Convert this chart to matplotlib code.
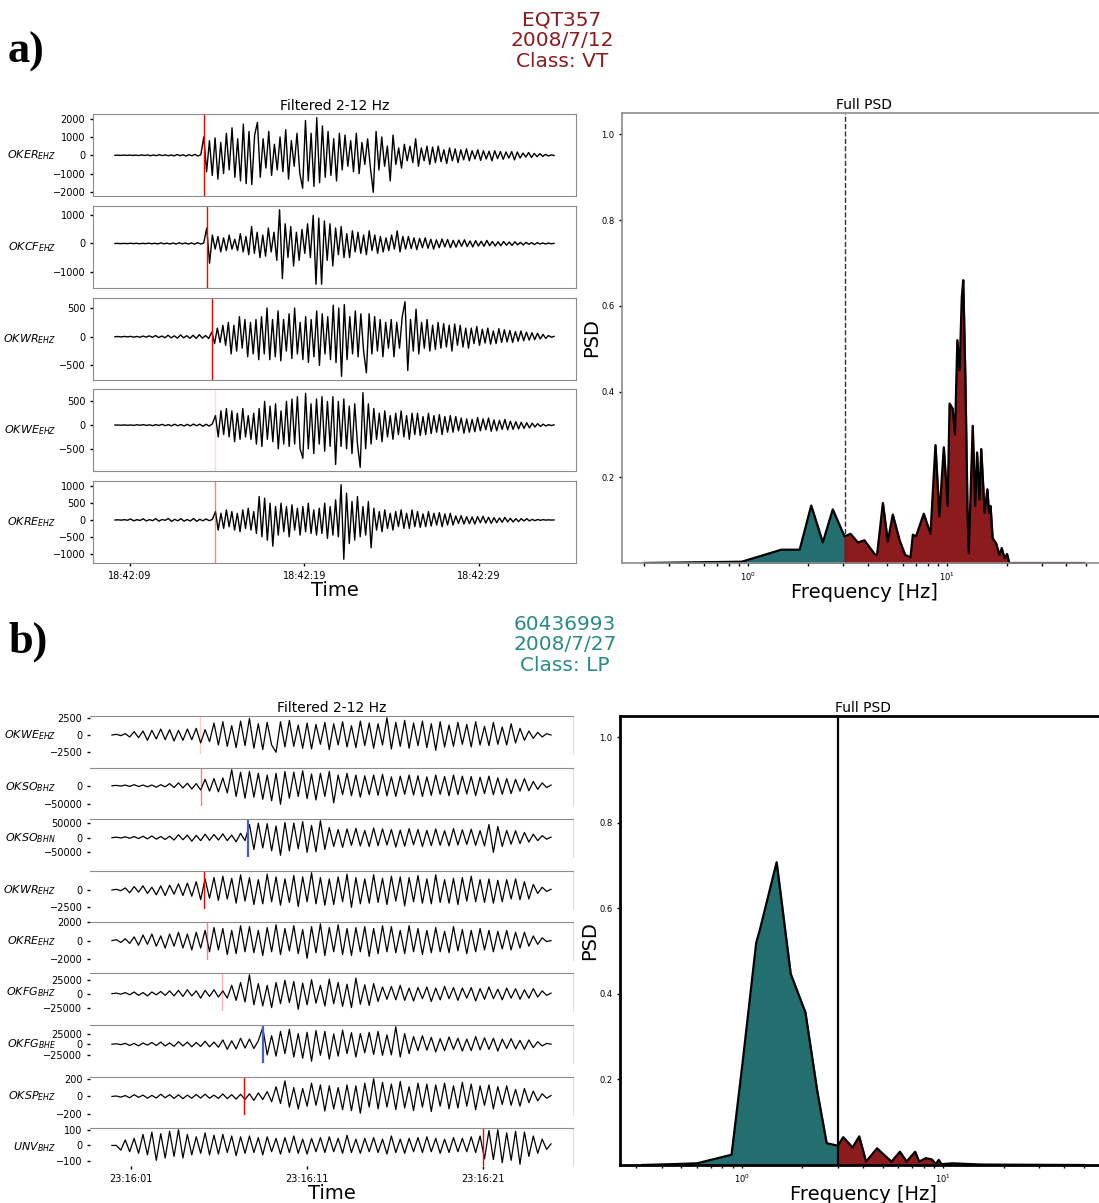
import numpy as np
import matplotlib
matplotlib.use('Agg')
import matplotlib.pyplot as plt

# ---------------- panel a: VT event ----------------
a_header = 'EQT357\n2008/7/12\nClass: VT'
a_labels = [r'$OKER_{EHZ}$', r'$OKCF_{EHZ}$', r'$OKWR_{EHZ}$', r'$OKWE_{EHZ}$', r'$OKRE_{EHZ}$']
a_t_start, a_t_end = 8.14, 33.3          # seconds after 18:42:00
a_picks = [13.23, 13.4, 13.69, 13.9, 13.9]
a_pick_alpha = [1.0, 1.0, 1.0, 0.15, 0.5]
a_yticks = [[-2000, -1000, 0, 1000, 2000], [-1000, 0, 1000], [-500, 0, 500],
            [-500, 0, 500], [-1000, -500, 0, 500, 1000]]
a_xticks = [9, 19, 29]
a_xticklabels = ['18:42:09', '18:42:19', '18:42:29']

oker_pre = [0, 5, -8, 10, -6, 12, -10, 8, -15, 20, -12, 18, -25, 15, -20, 30, -18, 25, -30, 20,
            -35, 40, -25, 30, -45, 35, -30, 50, -40, 30]
oker_post = [1000, -900, 800, -1100, 950, -1300, 700, -1000, 1200, -800, 1500, -1200, 900, -1400, 1700,
             -1550, 1300, -1600, 1100,
             1800, -1200, 900, -700, 1300, -1100, 600, -800, 1000, -900, 1400, -1300, 800, -600, 1200, -1000,
             -1800, 1900, -1400, 1200, -1700, 2050, -1500, 1600, -1200, 1300,
             -1100, 900, -1400, 1200, -800, 1100, -600, 800, -900, 1200, -1000, 700, -500, 900, -700,
             -2020, 1300, -800, 1000, -600, 500, -1400, 1100, -500, 400, -700, 600, -300, 500, -400, 900,
             -600, 400, -300, 500,
             -500, 450, -400, 500, -350, 300, -450, 400, -300, 350, -400, 300, -250, 350, -300, 250, -200,
             300, -280, 250, -200, 220, -300, 250, -180, 200, -220, 180, -150, 200, -250, 180, -150, 120,
             -100, 150, -120, 100, -80, 90, -60, 50, -40, 20, -10]
okcf_pre = [0, 3, -5, 4, -6, 8, -5, 7, -10, 6, -8, 12, -10, 8, -15, 20, -12, 10, -18, 15, -20, 25, -15,
            18, -22, 20, -25, 30, -20, 15]
okcf_post = [550, -700, 300, -200, 250, -300, 200, -250, 300, -200, 150, -250, 350, -300, 250, -400,
             600, -350, 400, -500, 300, -450, 550, -300, 400, -600,
             1200, -1250, 700, -500, 600, -800, 400, -600, 500, -350, 700, -500,
             1000, -1450, 900, -1450, 800, -600, 700, -800, 550, -400, 600, -500, 350,
             -500, 450, -300, 400, -350, 300, -400, 450, -250, 300, -350, 250, -300, 200, -250, 300, -200,
             450, -300, 250,
             -200, 250, -180, 200, -220, 180, -150, 200, -170, 150, -200, 130, -150, 160, -120, 140, -150,
             110, -130, 120, -100, 130, -110, 90, -120, 100, -90, 80, -100, 110, -80, 70, -90, 60, -80, 70,
             -60, 50, -70, 60, -50, 40, -50, 40, -30, 30, -40, 30, -20, 20, -20, 15, -10, 5]
okwr_pre = [0, 3, -4, 5, -3, 6, -8, 5, -10, 12, -8, 15, -10, 20, -15, 12, -18, 25, -20, 15, -25, 30, -20,
            18, -28, 25, -30, 35, -25, 20, -30]
okwr_post = [80, -120, 150, -100, 200, -150,
             250, -300, 200, -250, 350, -200, 300, -350, 250, -300, 300, -400, 350,
             -300, 500, -400, 300, -350, 450, -420, 300, -250, 400, -380, 500, -300, 250, -400, 350, -450,
             300, -350, 450, -500, 400, -300, 350, -400, 550, -450, 500,
             -690, 560, -400, 350, -300, 450, -350, 400, -250,
             -630, 400, -300, 350, -250, 300, -350, 250, -200, 300, -350, 250, -200, 350,
             610, -590, 300, -250,
             480, -300, 250, -200, 300, -250, 200, -220, 250, -200, 230, -180, 200, -250, 220, -150, 200,
             -180, 150, -200,
             150, -120, 180, -150, 130, -110, 150, -130, 100, -120, 140, -100, 120, -90, 110, -100, 90, -80,
             100, -70, 80, -60, 70, -50, 60, -40, 40, -30, 20, -10, 5]
okwe_pre = [0, 2, -3, 4, -5, 3, -6, 8, -5, 10, -7, 6, -12, 10, -8, 15, -12, 10, -15, 18, -14, 12, -20, 16,
            -18, 22, -15, 20, -25, 18, -20, 25]
okwe_post = [200, -250, 300, -200,
             350, -250, 300, -350, 250, -300, 350, -250, 200, -300, 250,
             -400, 350, -450, 500, -300, 400, -350, 450, -500, 300, -400,
             500, -450, 550, -400, 600, -500,
             -700, 670, -500, 450, -600, 550, -400, 600, -550, 500, -450, 600,
             -830, 500, -450, 550, -500, 400, -600, 450, -400,
             -890, 683, -500, 450, -400, 350,
             -300, 250, -350, 300, -250, 200, -300, 250, -200, 300, -250, 200, -300, 250, -200, 250, -220,
             180, -200, 250, -180, 200, -150, 220, -200, 180, -150, 200,
             -150, 180, -120, 150, -170, 130, -150, 120, -140, 160, -120, 130, -100, 150, -130, 110, -120,
             100, -90, 120, -100, 80, -90, 70, -80, 60, -70, 50, -60, 40, -40, 30, -30, 20, -20, 10, -10, 5]
okre_pre = [0, 5, -5, 10, -8, 30, -25, 10, -15, 35, -30, 12, -20, 40, -35, 15, -10, 45, -40, 20, -25, 40,
            -35, 15, -30, 45, -40, 20, -25, 30, -20, 15]
okre_post = [250, -300, 200, -250, 300, -200, 250, -300, 200, -350, 300, -250, 350, -300, 250,
             -400, 700, -500, 650, -600, 500,
             -780, 400, -450, 500, -350, 400, -500, 450, -300, 350, -450, 400, -350, 500, -400, 300, -450,
             350, -400, 500, -550, 400, -450, 600, -500,
             1050, -1170, 800, -700, 550, -600, 700, -500, 400, -450, 550, -830, 350,
             -300, 250, -350, 300, -250, 200, -300, 250, -200, 300, -250, 200, -250, 300, -200, 250, -220,
             180, -200, 250, -180, 200, -150, 220, -200, 180, -150, 200,
             -150, 120, -100, 130, -120, 100, -110, 90, -120, 100, -80, 110, -90, 80, -100, 70, -80, 60,
             -70, 80, -60, 50, -60, 40, -50, 40, -30, 40, -30, 20, -20, 15, -10, 10, -5, 5, -3, 2]

a_pre = [oker_pre, okcf_pre, okwr_pre, okwe_pre, okre_pre]
a_post = [oker_post, okcf_post, okwr_post, okwe_post, okre_post]

# PSD of event a
psd_a_freq = [0.30, 0.63, 0.93, 1.21, 1.47, 1.82, 2.08, 2.38, 2.67, 3.06, 3.28, 3.57, 3.85, 4.33, 4.46,
              4.77, 5.05, 5.35, 5.78, 6.17, 6.57, 6.75, 7.0, 7.66, 8.28, 8.77, 9.18, 9.66, 10.1, 10.33,
              10.7, 11.0, 11.3, 11.6, 11.9, 12.1, 12.4, 12.7, 12.9, 13.5, 13.9, 14.2, 14.6, 14.9, 15.5,
              16.0, 16.3, 16.6, 17.0, 17.7, 18.4, 18.9, 19.5, 20.1, 20.6, 49.0]
psd_a_val = [0, 0.002, 0.003, 0.019, 0.031, 0.031, 0.134, 0.048, 0.125, 0.062, 0.068, 0.048, 0.053,
             0.021, 0.019, 0.140, 0.050, 0.113, 0.054, 0.019, 0.013, 0.066, 0.062, 0.115, 0.068, 0.275,
             0.109, 0.27, 0.133, 0.372, 0.36, 0.30, 0.52, 0.45, 0.62, 0.66, 0.43, 0.13, 0.023, 0.32,
             0.133, 0.258, 0.148, 0.266, 0.117, 0.172, 0.117, 0.133, 0.058, 0.046, 0.019, 0.035, 0.011,
             0.021, 0.0, 0.0]
psd_a_split = 3.06

# ---------------- panel b: LP event ----------------
b_header = '60436993\n2008/7/27\nClass: LP'
b_labels = [r'$OKWE_{EHZ}$', r'$OKSO_{BHZ}$', r'$OKSO_{BHN}$', r'$OKWR_{EHZ}$', r'$OKRE_{EHZ}$',
            r'$OKFG_{BHZ}$', r'$OKFG_{BHE}$', r'$OKSP_{EHZ}$', r'$UNV_{BHZ}$']
b_t_start, b_t_end = -0.1, 24.85          # seconds after 23:16:00
b_picks = [4.92, 4.98, 7.65, 5.15, 5.3, 6.17, 8.5, 7.42, 21.0]
b_pick_kind = ['P', 'P', 'S', 'P', 'P', 'P', 'S', 'P', 'P']
b_pick_alpha = [0.2, 0.5, 1.0, 1.0, 0.5, 0.3, 1.0, 1.0, 1.0]
b_units = [100, 1000, 1000, 100, 100, 1000, 1000, 1, 1]
b_yticks = [[-2500, 0, 2500], [-50000, 0], [-50000, 0, 50000], [-2500, 0], [-2000, 0, 2000],
            [-25000, 0, 25000], [-25000, 0, 25000], [-200, 0, 200], [-100, 0, 100]]
b_xticks = [1, 11, 21]
b_xticklabels = ['23:16:01', '23:16:11', '23:16:21']

okwe_ehz = [0, 1, -1, 2,
            -3, 5, -4, 6, -8, 7, -6, 9, -7, 8, -9, 7,
            -8, 9, -7, 10, -12, 8, -10,
            18, -15, 20, -17, 14, -19, 21, -16,
            25, -20, 17, -22, 19, -15,
            -26, 20, -18, 22, -17, 15, -20, 18, -21, 16, -14, 19, -22, 17, -15, 20, -18, 14, -19, 21, -16,
            18, -20, 17, -15,
            26, -21, 19, -17, 22, -20, 18, -16, 21, -19,
            17, -23, 20, -18, 15, -17, 19, -14, 16, -18, 20, -15, 13, -16, 19, -14, 12, -15, 17, -12,
            10, -8, 6, -5, 4, -3, 2, 0]
okso_bhz = [0, 1, -1, 2, -2, 3, -2, 2, -3, 2, -4, 3, -3,
            6, -5, 8, -6, 7, -9, 6,
            -12, 18, -15, 20, -17, 22, -20,
            45, -30, 38, -35, 40, -32, 35, -38, 30, -42, 35,
            -52, 40, -35, 38, -30, 42, -36, 33, -40, 35, -30,
            40, -48, 30, -25, 35, -28, 30, -32, 28, -25, 30, -27,
            32, -28, 25, -30, 27, -24, 30, -26, 28, -30, 25, -27, 30, -24, 26, -28, 30, -25, 27, -23,
            26, -28, 24, -22, 27, -25, 22, -24, 20, -22,
            18, -15, 20, -14, 12, -10, 8, -5, 2]
okso_bhn = [0, 2, -1, 3, -2, 4, -3, 5, -4, 6, -5, 4, -6, 5,
            -8, 10, -7, 9, -12, 8, -10, 12, -9, 11, -8, 13, -10, 9, -14, 15,
            -10, 45, -40, 50, -35, 48, -45,
            40, -60, 52, -45, 50, -38, 55, -50, 42, -48, 58, -40,
            35, -30, 28, -33, 30, -26, 32, -28, 25, -30, 33, -27, 30, -25, 28, -32, 26, -29, 31, -24,
            28, -30, 25, -27, 30, -26, 24, -28, 31, -25, 27, -23, 29, -26, 24, -28,
            45, -50, 38, -30,
            25, -22, 24, -20, 18, -15, 12, -10, 7, -5, 2]
okwr_ehz = [0, 1, -1,
            3, -4, 5, -3, 6, -5, 4, -7, 6, -8, 7, -6, 9, -8, 10, -9, 12,
            -14, 16, -12, 18, -15, 20, -13, 17, -19, 22, -16, 18, -21, 15, -20, 23, -17, 19, -22, 16,
            -18, 21, -24, 19, -17, 25, -20, 18, -22, 16, -21, 19, -17, 23, -25, 18, -20, 16, -19, 22,
            -18, 17, -21, 20, -16, 19, -23, 18, -17, 21, -19, 16, -20, 22, -18, 15, -19, 17, -21, 18,
            -16, 20, -17, 15, -18, 16, -19, 14, -17, 15, -13, 16, -14, 12, -13,
            8, -5, 4, -2, 1]
okre_ehz = [0, 1, -2, 2,
            -3, 4, -5, 6, -4, 7, -6, 5, -8, 7, -6, 9, -8, 7, -10, 9, -8, 11,
            -12, 14, -10, 13, -15, 11, -14, 16, -12, 15, -13, 11, -16, 14, -12, 17, -15, 13, -11, 16,
            -14, 12, -19, 15, -13, 18, -16, 14, -12, 17, -15, 13, -16, 14, -12, 15, -17, 13, -14, 16,
            -12, 15, -13, 11, -14, 16, -12, 13, -15, 11, -13, 14, -12, 10, -13, 15, -11, 12, -14, 11,
            -12, 13, -10, 11, -12, 10, -9, 11, -10, 9, -8, 9,
            -6, 5, -4, 3, -1, 0]
okfg_bhz = [0, 1, -1, 2, -2, 3, -3, 2, -4, 3, -2, 4, -3, 5, -4,
            6, -5, 7, -4, 5, -8, 6, -5, 7, -6,
            5, -8, 15, -12, 20,
            -15, 34, -20, 18, -22, 15, -25, 20, -18, 24, -16, 22, -28, 19, -20, 25, -17, 15, -22, 26,
            -18, 20, -23, 17, -25, 28, -19, 16, -21, 18,
            -14, 12, -10, 13, -11, 15, -12, 10, -13, 11, -9, 12, -14, 10, -11, 13, -9, 11, -12, 10,
            -8, 11, -13, 9, -10, 12, -9, 8, -11, 10, -8, 9, -10, 7, -8, 9, -6, 5, -3, 1]
okfg_bhe = [0, 1, -1, 2, -3, 2, -4, 3, -2, 4, -3, 5, -4, 3, -5, 6, -4, 5, -6, 4, -5, 7, -6, 5, -7,
            10, -12, 8, -11, 14, -9, 12, -10, 8,
            39, -25, 20, -28, 30, -22, 35, -30, 25, -33, 28, -40, 32, -26, 30, -35, 24, -28, 33, -22,
            27, -30, 25, -20, 28, -24, 30, -26, 22, -25, 41, -30, 25, -22,
            18, -15, 20, -14, 16, -18, 13, -15, 17, -12, 14, -16, 12, -15, 18, -13, 15, -12, 14, -16,
            12, -10, 13, -11, 9, -12, 10, -8, 6, -4, 2, 0]
oksp_ehz = [0, 5, -8, 10, -15, 20, -10, 15, -20, 12, -18, 25, -15, 20, -22, 18, -25, 15, -20, 22,
            -18, 25, -20, 15, -22, 28, -25, 20, -30, 25,
            -35, 30, -45, 40, -35, 55,
            -60, 110, -80, 175, -120, 100, -140, 90, -110, 150, -100, 130, -165, 120, -140, 100, -150,
            130, -160, 120, -190, 150, -120,
            200, -140, 160, -120, 140, -150, 170, -130, 110, -160, 150, -120, 140, -170, 130, -110, 150,
            -140, 120, -130, 160, -110, 140, -150, 120, -100, 130, -140, 110, -90, 120, -100, 80, -110,
            90, -70, 60, -50, 30, -20, 10]
unv_bhz = [0, 0, -30, 35, -40, 45, -50,
           70, -60, 85, -95, 75, -80, 90, -70, 100, -80, 70, -60,
           55, -50, 80, -60, 65, -55, 70, -45, 60, -65, 55, -50, 60, -45, 50, -60, 55, -40, 45, -55,
           50, -45, 60, -50, 40, -55, 45, -40, 50, -45, 55, -40, 45, -50, 65, -45, 40, -50, 45, -40,
           50, -45, 40, -55, 60, -45, 40, -50, 45, -40, 50, -45, 55, -40, 45, -50, 40, -45, 50, -40,
           45, -40, 55, -45, 60,
           -85, 95, -90, 100, -110, 80, -95, 90, -120, 85, -70, 60, -50, 40, -25, 10]

b_traces = [okwe_ehz, okso_bhz, okso_bhn, okwr_ehz, okre_ehz, okfg_bhz, okfg_bhe, oksp_ehz, unv_bhz]

# PSD of event b
psd_b_freq = [0.32, 0.45, 0.60, 0.89, 1.01, 1.18, 1.23, 1.49, 1.75, 2.07, 2.37, 2.64, 3.0, 3.19, 3.55,
              3.83, 4.14, 4.70, 5.08, 5.54, 6.10, 6.58, 7.26, 7.6, 8.2, 8.8, 9.2, 9.5, 9.8, 11.2, 12.3,
              15.7, 50.0]
psd_b_val = [0, 0.002, 0.004, 0.024, 0.24, 0.52, 0.55, 0.708, 0.447, 0.357, 0.173, 0.051, 0.045, 0.065,
             0.041, 0.067, 0.008, 0.039, 0.024, 0.008, 0.031, 0.008, 0.031, 0.008, 0.016, 0.013, 0.002,
             0.012, 0.002, 0.004, 0.003, 0.001, 0]
psd_b_split = 3.0

TEAL = '#236f70'
DARKRED = '#8c1b1e'

W, H = 1099, 1203
fig = plt.figure(figsize=(W / 100, H / 100), dpi=100)


def box(left, top, right, bottom):
    # pixel box -> figure fraction
    return [left / W, 1 - bottom / H, (right - left) / W, (bottom - top) / H]


def draw_psd(ax, freq, val, split, line_style, spine_color, spine_width):
    freq = np.array(freq)
    val = np.array(val)
    ax.fill_between(freq, 0, val, where=freq <= split, color=TEAL)
    ax.fill_between(freq, 0, val, where=freq >= split, color=DARKRED)
    ax.plot(freq, val, color='black', lw=1.6)
    ax.axvline(split, color=line_style[0], ls=line_style[1], lw=line_style[2])
    ax.set_xscale('log')
    ax.set_ylim(0, 1.05)
    ax.set_yticks([0.2, 0.4, 0.6, 0.8, 1.0])
    ax.tick_params(labelsize=6, length=2, width=1)
    ax.tick_params(which='minor', length=2, width=1)
    for s in ax.spines.values():
        s.set_color(spine_color)
        s.set_linewidth(spine_width)
    ax.set_title('Full PSD', fontsize=10, pad=3)
    ax.set_xlabel('Frequency [Hz]', fontsize=14, labelpad=0)
    ax.set_ylabel('PSD', fontsize=14, labelpad=0)


# ----- header texts -----
fig.text(8 / W, 1 - 52 / H, 'a)', fontsize=32, fontweight='bold', family='Liberation Serif',
         ha='left', va='center')
fig.text(562 / W, 1 - 41 / H, a_header, fontsize=14.5, color=DARKRED, ha='center', va='center',
         linespacing=1.1)
fig.text(8 / W, 1 - 642 / H, 'b)', fontsize=32, fontweight='bold', family='Liberation Serif',
         ha='left', va='center')
fig.text(565 / W, 1 - 645 / H, b_header, fontsize=14.5, color='#2a8a86', ha='center', va='center',
         linespacing=1.1)

# ----- panel a traces -----
a_tops = [114, 206, 298, 389, 481]
for i, top in enumerate(a_tops):
    ax = fig.add_axes(box(93, top, 576, top + 82))
    pre, post = a_pre[i], a_post[i]
    tp = np.linspace(a_t_start, a_picks[i], len(pre), endpoint=False)
    tq = np.linspace(a_picks[i], a_t_end, len(post))
    ax.plot(np.r_[tp, tq], np.r_[pre, post], color='black', lw=1.0)
    ax.axvline(a_picks[i], color='red', lw=1, alpha=a_pick_alpha[i])
    ax.set_yticks(a_yticks[i])
    ax.tick_params(labelsize=7, length=2, width=1)
    for s in ax.spines.values():
        s.set_color('#8c8c8c')
    fig.text(56 / W, 1 - (top + 41) / H, a_labels[i], fontsize=8, ha='right', va='center')
    if i == len(a_tops) - 1:
        ax.set_xticks(a_xticks)
        ax.set_xticklabels(a_xticklabels)
        ax.set_xlabel('Time', fontsize=14, labelpad=0)
    else:
        ax.set_xticks([])
    if i == 0:
        ax.set_title('Filtered 2-12 Hz', fontsize=10, pad=3)

ax = fig.add_axes(box(622, 113, 1106, 563))
draw_psd(ax, psd_a_freq, psd_a_val, psd_a_split, ('#333333', '--', 1.0), '#8c8c8c', 1.2)

# ----- panel b traces -----
b_tops = [716, 768, 819, 871, 922, 973, 1025, 1077, 1128]
for i, top in enumerate(b_tops):
    ax = fig.add_axes(box(90, top, 573, top + 38))
    vals = np.array(b_traces[i]) * b_units[i]
    t = np.linspace(b_t_start, b_t_end, len(vals))
    ax.plot(t, vals, color='black', lw=0.9)
    if b_pick_kind[i] == 'S':
        ax.axvline(b_picks[i], color='#3f63c0', lw=1.6)
    else:
        ax.axvline(b_picks[i], color='red', lw=1, alpha=b_pick_alpha[i])
    ax.set_yticks(b_yticks[i])
    ax.tick_params(labelsize=7, length=2, width=1)
    ax.spines['left'].set_visible(False)
    ax.spines['bottom'].set_visible(False)
    ax.spines['top'].set_color('#8c8c8c')
    ax.spines['right'].set_color('#e0e0e0')
    fig.text(56 / W, 1 - (top + 19) / H, b_labels[i], fontsize=8, ha='right', va='center')
    if i == len(b_tops) - 1:
        ax.set_xticks(b_xticks)
        ax.set_xticklabels(b_xticklabels)
        ax.set_xlabel('Time', fontsize=14, labelpad=0)
    else:
        ax.set_xticks([])
    if i == 0:
        ax.set_title('Filtered 2-12 Hz', fontsize=10, pad=3)

ax = fig.add_axes(box(620, 716, 1106, 1165))
draw_psd(ax, psd_b_freq, psd_b_val, psd_b_split, ('black', '-', 1.6), 'black', 2.0)

fig.savefig('out.png', dpi=100)
